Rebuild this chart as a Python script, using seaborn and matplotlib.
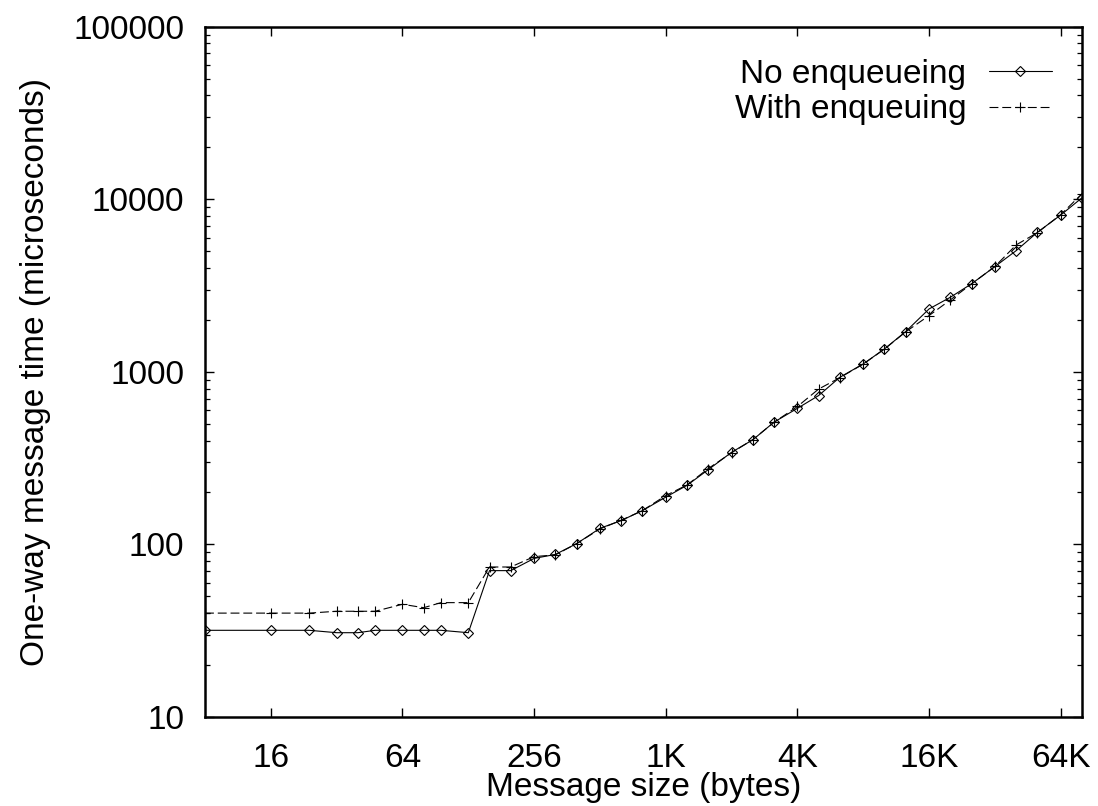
import numpy as np
import pandas as pd
import matplotlib
matplotlib.use("Agg")
import matplotlib.pyplot as plt
from matplotlib.ticker import NullLocator, NullFormatter, LogLocator
import seaborn as sns

# message sizes in bytes (x axis, log2)
sizes = [8, 16, 24, 32, 40, 48, 64, 80, 96, 128,
         160, 200, 256, 320, 400, 512, 640, 800, 1024, 1280,
         1600, 2048, 2560, 3200, 4096, 5120, 6400, 8192, 10240, 12800,
         16384, 20480, 25600, 32768, 40960, 51200, 65536, 81920]

# one-way message time in microseconds
no_enqueue = [31.8, 31.8, 31.8, 30.8, 30.8, 31.8, 31.8, 31.8, 31.8, 30.8,
              70.5, 70.5, 83, 87.5, 101, 124, 137.5, 157, 188, 220,
              271, 342, 404, 511, 615, 729, 930, 1112, 1358, 1711,
              2316, 2704, 3236, 4074, 5037, 6430, 8110, 10190]
with_enqueue = [40, 40, 40, 41, 41, 41, 45, 43, 46, 46,
                74, 74, 85, 87, 101, 123, 138, 157, 192, 221,
                275, 340, 405, 510, 630, 795, 925, 1110, 1355, 1705,
                2120, 2610, 3230, 4080, 5440, 6400, 8150, 10750]

series_names = ["No enqueueing", "With enqueuing"]
xtick_vals = [16, 64, 256, 1024, 4096, 16384, 65536]
xtick_labels = ["16", "64", "256", "1K", "4K", "16K", "64K"]
ytick_vals = [10, 100, 1000, 10000, 100000]
ytick_labels = ["10", "100", "1000", "10000", "100000"]

sns.set_theme(style="ticks")
plt.rcParams["font.family"] = ["Liberation Sans", "DejaVu Sans"]
plt.rcParams["text.color"] = "black"
FS = 24

fig, ax = plt.subplots(figsize=(10.98, 8.06), dpi=100)
fig.subplots_adjust(left=0.1867, right=0.9854, bottom=0.1104, top=0.9669)

sns.lineplot(x=sizes, y=no_enqueue, label=series_names[0], color="black",
             marker="D", markersize=5.5, markerfacecolor="none",
             markeredgecolor="black", markeredgewidth=0.8,
             linewidth=0.8, estimator=None, sort=False, ax=ax)
sns.lineplot(x=sizes, y=with_enqueue, label=series_names[1], color="black",
             marker="+", markersize=7, markeredgecolor="black",
             markeredgewidth=0.8, linewidth=0.8, linestyle=(0, (8, 3.5)),
             estimator=None, sort=False, ax=ax)

ax.set_xscale("log", base=2)
ax.set_yscale("log")
ax.set_xlim(8, 81920)
ax.set_ylim(10, 100000)

ax.set_xticks(xtick_vals)
ax.set_xticklabels(xtick_labels)
ax.xaxis.set_minor_locator(NullLocator())
ax.set_yticks(ytick_vals)
ax.set_yticklabels(ytick_labels)
ax.yaxis.set_minor_locator(LogLocator(base=10, subs=np.arange(2, 10)))
ax.yaxis.set_minor_formatter(NullFormatter())

ax.tick_params(which="both", direction="in", top=True, right=True,
               color="black", labelcolor="black", labelsize=FS)
ax.tick_params(which="major", length=6.5, width=1.0)
ax.tick_params(which="minor", length=3.5, width=0.9)
ax.tick_params(axis="x", which="major", pad=19)
ax.tick_params(axis="y", which="major", pad=15)

for sp in ax.spines.values():
    sp.set_linewidth(1.8)
    sp.set_color("black")

ax.set_xlabel("Message size (bytes)", fontsize=FS, color="black", labelpad=-1.5)
ax.set_ylabel("One-way message time (microseconds)", fontsize=FS,
              color="black", labelpad=16)

leg = ax.legend(loc="upper right", bbox_to_anchor=(0.966, 0.953),
                frameon=False, fontsize=FS, markerfirst=False,
                handlelength=1.9, handletextpad=0.68, labelspacing=0.13,
                borderaxespad=0, borderpad=0)
for t in leg.get_texts():
    t.set_color("black")

plt.savefig("out.png", dpi=100)
plt.close()
